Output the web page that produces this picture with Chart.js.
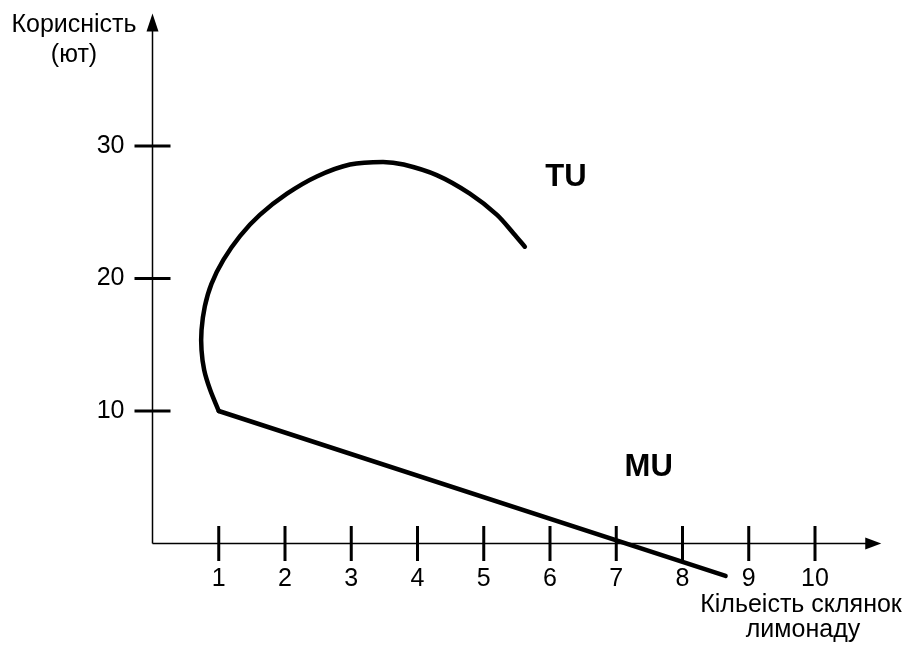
<!DOCTYPE html>
<html>
<head>
<meta charset="utf-8">
<script src="https://cdn.jsdelivr.net/npm/chart.js@4.4.1/dist/chart.umd.min.js"></script>
<style>
  html, body { margin: 0; padding: 0; background: #fff; }
  #wrap { width: 911px; height: 646px; }
</style>
</head>
<body>
<div id="wrap"><canvas id="chart"></canvas></div>
<script>
// осі
const xTicks = [1, 2, 3, 4, 5, 6, 7, 8, 9, 10];
const yTicks = [10, 20, 30];

// крива TU (загальна корисність)
const tuX = [1, 0.87, 0.78, 0.74, 0.74, 0.79, 0.89, 1.07, 1.32, 1.62, 2.03, 2.48, 2.98, 3.48, 3.79, 4.29, 4.79, 5.2, 5.45, 5.62];
const tuY = [10, 11.6, 13.1, 14.6, 16.1, 17.9, 19.6, 21.4, 23.2, 24.8, 26.4, 27.7, 28.6, 28.8, 28.6, 27.8, 26.4, 24.8, 23.4, 22.4];

// пряма MU (гранична корисність)
const muX = [1, 8.65];
const muY = [10, -2.45];

const FONT = '"Liberation Sans", Arial, sans-serif';

const toPoints = (xs, ys) => xs.map((x, i) => ({ x, y: ys[i] }));

const axesPlugin = {
  id: 'axes',
  beforeDatasetsDraw(chart) {
    const { ctx, scales: { x, y } } = chart;
    const x0 = x.getPixelForValue(0);
    const y0 = y.getPixelForValue(0);
    const xEnd = x.getPixelForValue(11);
    const yEnd = y.getPixelForValue(40);

    ctx.save();
    ctx.strokeStyle = '#000';
    ctx.fillStyle = '#000';
    ctx.lineWidth = 1.5;
    ctx.beginPath();
    ctx.moveTo(x0, y0);
    ctx.lineTo(x0, yEnd + 16);
    ctx.moveTo(x0, y0);
    ctx.lineTo(xEnd - 14, y0);
    ctx.stroke();

    // стрілки
    ctx.beginPath();
    ctx.moveTo(x0, yEnd);
    ctx.lineTo(x0 - 6, yEnd + 18);
    ctx.lineTo(x0 + 6, yEnd + 18);
    ctx.closePath();
    ctx.fill();
    ctx.beginPath();
    ctx.moveTo(xEnd, y0);
    ctx.lineTo(xEnd - 16, y0 - 6);
    ctx.lineTo(xEnd - 16, y0 + 6);
    ctx.closePath();
    ctx.fill();

    // поділки
    ctx.lineWidth = 3;
    ctx.beginPath();
    xTicks.forEach((v) => {
      const px = x.getPixelForValue(v);
      ctx.moveTo(px, y0 - 17.5);
      ctx.lineTo(px, y0 + 17.5);
    });
    yTicks.forEach((v) => {
      const py = y.getPixelForValue(v);
      ctx.moveTo(x0 - 18, py);
      ctx.lineTo(x0 + 18, py);
    });
    ctx.stroke();
    ctx.restore();
  },
  afterDatasetsDraw(chart) {
    const { ctx, scales: { x, y } } = chart;
    ctx.save();
    ctx.fillStyle = '#000';
    ctx.textAlign = 'center';
    ctx.textBaseline = 'middle';
    ctx.font = `bold 31px ${FONT}`;
    ctx.fillText('TU', x.getPixelForValue(6.24), y.getPixelForValue(27.66));
    ctx.fillText('MU', x.getPixelForValue(7.49), y.getPixelForValue(5.77));

    ctx.textBaseline = 'alphabetic';
    ctx.font = `25px ${FONT}`;
    ctx.fillText('Корисність', 74, 32);
    ctx.fillText('(ют)', 74, 62);
    ctx.fillText('Кільеість склянок', 801, 612);
    ctx.fillText('лимонаду', 803, 637);
    ctx.restore();
  },
};

new Chart(document.getElementById('chart'), {
  type: 'scatter',
  data: {
    datasets: [
      {
        label: 'TU',
        data: toPoints(tuX, tuY),
        showLine: true,
        borderColor: '#000',
        borderWidth: 4.5,
        borderCapStyle: 'round',
        borderJoinStyle: 'round',
        tension: 0.3,
        pointRadius: 0,
        clip: false,
      },
      {
        label: 'MU',
        data: toPoints(muX, muY),
        showLine: true,
        borderColor: '#000',
        borderWidth: 4.5,
        borderCapStyle: 'round',
        pointRadius: 0,
        clip: false,
      },
    ],
  },
  options: {
    responsive: true,
    maintainAspectRatio: false,
    animation: false,
    layout: { padding: { top: 13.5, right: 29.75, left: 0, bottom: 0 } },
    plugins: {
      legend: { display: false },
      tooltip: { enabled: false },
    },
    scales: {
      x: {
        type: 'linear',
        min: 0,
        max: 11,
        position: 'bottom',
        grid: { display: false, drawTicks: false },
        border: { display: false },
        afterBuildTicks: (scale) => {
          scale.ticks = xTicks.map((v) => ({ value: v }));
        },
        afterFit: (scale) => {
          scale.height = 102.5;
          scale.paddingLeft = 0;
          scale.paddingRight = 0;
        },
        ticks: {
          color: '#000',
          padding: 21,
          maxRotation: 0,
          font: { family: FONT, size: 25 },
        },
      },
      y: {
        type: 'linear',
        min: 0,
        max: 40,
        position: 'left',
        grid: { display: false, drawTicks: false },
        border: { display: false },
        afterBuildTicks: (scale) => {
          scale.ticks = yTicks.map((v) => ({ value: v }));
        },
        afterFit: (scale) => {
          scale.width = 152.5;
          scale.paddingTop = 0;
          scale.paddingBottom = 0;
        },
        ticks: {
          color: '#000',
          padding: 28,
          font: { family: FONT, size: 25 },
        },
      },
    },
  },
  plugins: [axesPlugin],
});
</script>
</body>
</html>
